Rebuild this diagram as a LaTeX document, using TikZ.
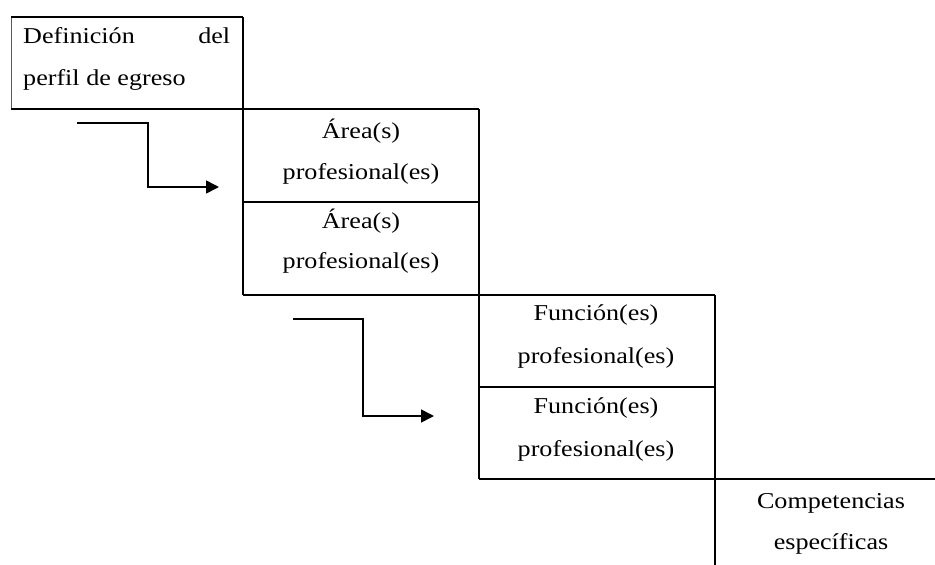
\documentclass[tikz,border=0pt]{standalone}
\usepackage{fontspec}
\setmainfont{Liberation Serif}[FakeStretch=1.15]
\usetikzlibrary{arrows.meta}
\begin{document}
\begin{tikzpicture}[x=1pt,y=-1pt,
  rule/.style={line width=1.6pt,black},
  thinrule/.style={line width=0.9pt,black!65},
  txt/.style={inner sep=0pt,font=\fontsize{22.7}{27}\selectfont},
  flow/.style={line width=1.6pt,-{Triangle[length=13pt,width=13pt]}}]
\useasboundingbox (0,0) rectangle (935,565);
% grid lines
\draw[thinrule] (11,17) -- (11,109);
\draw[rule] (11,17) -- (243,17);
\draw[rule] (243,17) -- (243,295);
\draw[rule] (11,109) -- (479,109);
\draw[rule] (479,109) -- (479,479);
\draw[rule] (243,202) -- (479,202);
\draw[rule] (243,295) -- (715,295);
\draw[rule] (715,295) -- (715,565);
\draw[rule] (479,387) -- (715,387);
\draw[rule] (479,479) -- (935,479);
% texts
\node[txt,anchor=base west,text width=207pt] (d1) at (23,43) {Definición\hfill del};
\node[txt,anchor=base west] (d2) at (23,85) {perfil de egreso};
\node[txt,anchor=base] (a1) at (361,138) {Área(s)};
\node[txt,anchor=base] (a2) at (361,179) {profesional(es)};
\node[txt,anchor=base] (a3) at (361,228) {Área(s)};
\node[txt,anchor=base] (a4) at (361,268) {profesional(es)};
\node[txt,anchor=base] (f1) at (596,320) {Función(es)};
\node[txt,anchor=base] (f2) at (596,363) {profesional(es)};
\node[txt,anchor=base] (f3) at (596,413) {Función(es)};
\node[txt,anchor=base] (f4) at (596,456) {profesional(es)};
\node[txt,anchor=base] (c1) at (831,508) {Competencias};
\node[txt,anchor=base] (c2) at (831,549) {específicas};
% arrows
\coordinate (p1) at (77,123);
\coordinate (p1e) at (219,187);
\coordinate (p2) at (293,319);
\coordinate (p2e) at (434,416);
\draw[flow] (p1) -- (148,123) |- (p1e);
\draw[flow] (p2) -- (363,319) |- (p2e);
\end{tikzpicture}
\end{document}
